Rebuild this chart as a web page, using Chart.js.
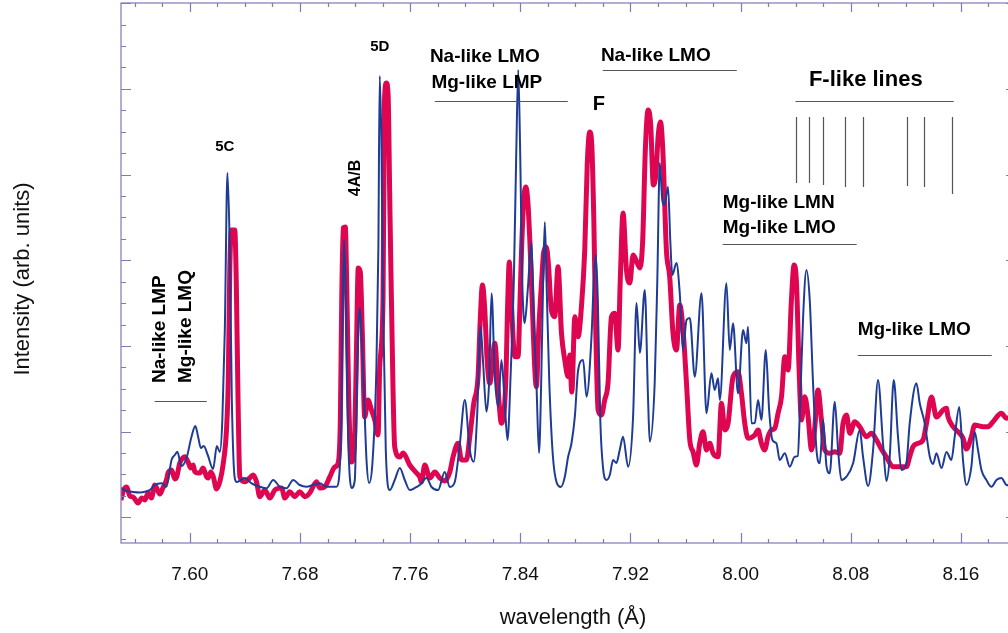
<!DOCTYPE html>
<html>
<head>
<meta charset="utf-8">
<script src="https://cdn.jsdelivr.net/npm/chart.js@4.4.1/dist/chart.umd.min.js"></script>
<style>
  html, body { margin: 0; padding: 0; background: #ffffff; overflow: hidden; }
  #wrap { width: 1030px; height: 633px; }
</style>
</head>
<body>
<div id="wrap"><canvas id="spectrum" width="1030" height="633"></canvas></div>
<script>
// ---- spectrum 1 (thin blue trace): wavelength (Å) / intensity (arb. units)
const blueWavelength = [
  7.5499, 7.5542, 7.5586, 7.5637, 7.5680, 7.5709, 7.5745, 7.5794, 7.5830, 7.5867,
  7.5891, 7.5909, 7.5939, 7.5976, 7.6012, 7.6040, 7.6060, 7.6080, 7.6101, 7.6130,
  7.6169, 7.6196, 7.6218, 7.6236, 7.6254, 7.6273, 7.6290, 7.6305, 7.6326, 7.6341,
  7.6370, 7.6399, 7.6448, 7.6508, 7.6557, 7.6605, 7.6653, 7.6702, 7.6750, 7.6798,
  7.6847, 7.6895, 7.6944, 7.6992, 7.7065, 7.7082, 7.7100, 7.7111, 7.7120, 7.7133,
  7.7149, 7.7174, 7.7198, 7.7212, 7.7222, 7.7234, 7.7249, 7.7258, 7.7283, 7.7302,
  7.7326, 7.7355, 7.7369, 7.7379, 7.7392, 7.7403, 7.7423, 7.7452, 7.7488, 7.7525,
  7.7561, 7.7597, 7.7634, 7.7670, 7.7719, 7.7755, 7.7803, 7.7851, 7.7888, 7.7924,
  7.7960, 7.7997, 7.8033, 7.8062, 7.8086, 7.8111, 7.8130, 7.8154, 7.8173, 7.8191,
  7.8215, 7.8239, 7.8263, 7.8287, 7.8307, 7.8331, 7.8353, 7.8371, 7.8385, 7.8400,
  7.8414, 7.8432, 7.8454, 7.8481, 7.8498, 7.8517, 7.8536, 7.8552, 7.8565, 7.8578,
  7.8592, 7.8610, 7.8636, 7.8665, 7.8694, 7.8723, 7.8747, 7.8772, 7.8796, 7.8820,
  7.8856, 7.8881, 7.8917, 7.8934, 7.8948, 7.8963, 7.8981, 7.9001, 7.9026, 7.9050,
  7.9074, 7.9098, 7.9122, 7.9146, 7.9183, 7.9219, 7.9244, 7.9268, 7.9304, 7.9328,
  7.9340, 7.9376, 7.9395, 7.9413, 7.9431, 7.9446, 7.9473, 7.9489, 7.9504, 7.9534,
  7.9558, 7.9582, 7.9607, 7.9631, 7.9667, 7.9716, 7.9752, 7.9788, 7.9812, 7.9836,
  7.9849, 7.9897, 7.9921, 7.9945, 7.9981, 8.0018, 8.0042, 8.0054, 8.0079, 8.0103,
  8.0127, 8.0151, 8.0183, 8.0207, 8.0231, 8.0260, 8.0284, 8.0321, 8.0357, 8.0393,
  8.0415, 8.0429, 8.0454, 8.0478, 8.0502, 8.0526, 8.0551, 8.0575, 8.0599, 8.0624,
  8.0647, 8.0684, 8.0708, 8.0732, 8.0769, 8.0817, 8.0865, 8.0889, 8.0926, 8.0962,
  8.0998, 8.1034, 8.1059, 8.1083, 8.1112, 8.1143, 8.1168, 8.1204, 8.1228, 8.1277,
  8.1301, 8.1337, 8.1374, 8.1398, 8.1422, 8.1459, 8.1495, 8.1531, 8.1555, 8.1588,
  8.1615, 8.1640, 8.1676, 8.1700, 8.1724, 8.1749, 8.1785, 8.1822, 8.1858, 8.1894,
  8.1931, 8.2000
];
const blueIntensity = [
  55, 52, 51, 50.5, 51.5, 53, 58, 59.7, 56.3, 83,
  88, 91.3, 77, 85, 106.3, 117, 106.3, 95, 97, 88,
  74, 97, 91, 123, 213, 370, 293, 143, 65, 61,
  63, 65, 59.7, 56.3, 54.7, 63, 56.3, 54.7, 63, 58,
  56.3, 58, 59.7, 56.3, 56.3, 63, 123, 243, 303, 243,
  110, 55, 63, 143, 210, 235, 203, 176, 83, 60,
  80, 176, 293, 467, 393, 243, 93, 53, 63, 75,
  63, 53, 55, 58, 65, 56, 53, 71, 56, 61,
  98, 143, 93, 81.3, 126.3, 216.3, 179.7, 131.3, 159.7, 249.7,
  166.3, 136.3, 183, 139.7, 103, 173, 263, 393, 473, 383,
  263, 220, 253, 301, 223, 160, 90, 163, 256, 321,
  253, 163, 88, 60, 56, 66, 86, 100, 126.3, 173,
  183, 146.3, 206.3, 263, 288, 243, 123, 75, 63, 68,
  83, 80, 93, 106.3, 76.3, 126.3, 240, 190, 253, 143,
  101.3, 160, 263, 380, 343, 338, 356, 303, 268, 280,
  250, 193, 223, 225, 166.3, 249.7, 129.7, 169.7, 153, 164.7,
  143, 259.7, 193, 219.7, 149.7, 213, 199.7, 216.3, 119.7, 120,
  143, 123, 193, 133, 103, 99.7, 83, 89.7, 76.3, 86.3,
  87, 126.3, 226.3, 273, 243, 159.7, 93, 79.7, 123, 76.3,
  69.7, 141.3, 93, 63, 66.3, 79.7, 113, 86.3, 57, 93,
  163, 99.7, 62, 86.3, 163, 106.3, 73, 79.7, 119.7, 159.7,
  139.7, 119.7, 86.3, 79, 89.7, 75, 91, 83, 106.3, 136,
  83, 58, 76.3, 111, 93, 73, 63, 56.3, 63, 65,
  58, 57
];

// ---- spectrum 2 (thick red trace): wavelength (Å) / intensity (arb. units)
const redWavelength = [
  7.5499, 7.5520, 7.5542, 7.5564, 7.5588, 7.5624, 7.5651, 7.5673, 7.5697, 7.5721,
  7.5745, 7.5782, 7.5804, 7.5830, 7.5842, 7.5867, 7.5891, 7.5905, 7.5927, 7.5949,
  7.5963, 7.5987, 7.6007, 7.6024, 7.6036, 7.6060, 7.6072, 7.6096, 7.6121, 7.6133,
  7.6152, 7.6169, 7.6194, 7.6218, 7.6241, 7.6266, 7.6279, 7.6290, 7.6302, 7.6326,
  7.6337, 7.6350, 7.6363, 7.6399, 7.6435, 7.6459, 7.6484, 7.6508, 7.6544, 7.6581,
  7.6617, 7.6666, 7.6690, 7.6726, 7.6762, 7.6798, 7.6835, 7.6871, 7.6920, 7.6944,
  7.6980, 7.7016, 7.7053, 7.7077, 7.7093, 7.7103, 7.7114, 7.7129, 7.7140, 7.7154,
  7.7174, 7.7198, 7.7210, 7.7223, 7.7238, 7.7252, 7.7270, 7.7294, 7.7319, 7.7343,
  7.7367, 7.7379, 7.7403, 7.7414, 7.7427, 7.7440, 7.7452, 7.7464, 7.7488, 7.7525,
  7.7549, 7.7597, 7.7646, 7.7670, 7.7682, 7.7706, 7.7743, 7.7779, 7.7815, 7.7851,
  7.7888, 7.7912, 7.7948, 7.7973, 7.8009, 7.8033, 7.8062, 7.8093, 7.8109, 7.8125,
  7.8142, 7.8159, 7.8178, 7.8215, 7.8239, 7.8263, 7.8294, 7.8309, 7.8320, 7.8334,
  7.8360, 7.8384, 7.8396, 7.8409, 7.8425, 7.8440, 7.8454, 7.8469, 7.8481, 7.8517,
  7.8534, 7.8554, 7.8570, 7.8589, 7.8603, 7.8626, 7.8650, 7.8674, 7.8699, 7.8723,
  7.8747, 7.8759, 7.8774, 7.8796, 7.8820, 7.8844, 7.8868, 7.8886, 7.8904, 7.8919,
  7.8934, 7.8948, 7.8965, 7.8989, 7.9013, 7.9037, 7.9062, 7.9086, 7.9110, 7.9126,
  7.9146, 7.9171, 7.9195, 7.9219, 7.9246, 7.9268, 7.9289, 7.9308, 7.9328, 7.9347,
  7.9366, 7.9384, 7.9402, 7.9418, 7.9435, 7.9461, 7.9485, 7.9509, 7.9534, 7.9558,
  7.9582, 7.9607, 7.9631, 7.9655, 7.9679, 7.9703, 7.9727, 7.9752, 7.9776, 7.9800,
  7.9836, 7.9861, 7.9885, 7.9909, 7.9945, 7.9981, 8.0006, 8.0030, 8.0054, 8.0103,
  8.0127, 8.0151, 8.0175, 8.0199, 8.0224, 8.0248, 8.0272, 8.0297, 8.0321, 8.0345,
  8.0369, 8.0388, 8.0406, 8.0424, 8.0442, 8.0466, 8.0490, 8.0515, 8.0539, 8.0562,
  8.0587, 8.0611, 8.0647, 8.0684, 8.0720, 8.0744, 8.0769, 8.0793, 8.0829, 8.0865,
  8.0914, 8.0950, 8.0987, 8.1018, 8.1059, 8.1107, 8.1156, 8.1204, 8.1228, 8.1252,
  8.1289, 8.1325, 8.1350, 8.1386, 8.1422, 8.1470, 8.1495, 8.1506, 8.1543, 8.1579,
  8.1615, 8.1640, 8.1676, 8.1700, 8.1761, 8.1797, 8.1833, 8.1894, 8.1931, 8.2000
];
const redIntensity = [
  43, 53, 56, 47, 46, 40, 45, 43, 50, 45,
  58, 49, 55, 63, 70, 73, 64, 66.3, 80, 85,
  86.3, 81, 75, 78, 71.3, 70, 70, 75, 66.3, 65,
  71, 67, 54, 61.3, 78, 113, 163, 273, 313, 313,
  263, 143, 66.3, 61.3, 65, 68, 61.3, 46.3, 53, 45,
  53, 55, 45, 51.3, 46.3, 51.3, 46.3, 50, 61.3, 55,
  56.3, 66, 76, 80, 123, 243, 315, 316, 253, 143,
  81, 110, 193, 275, 271, 213, 126, 143, 133, 123,
  108, 176, 243, 443, 460, 448, 343, 243, 96, 86,
  90, 78, 70, 66, 61, 78, 65, 71, 65, 62,
  71, 86.3, 99.7, 83, 83, 106.3, 139.7, 166.3, 223, 258,
  233, 183, 159.7, 199.7, 153, 119.7, 159.7, 243, 281, 243,
  186.3, 186.3, 233, 293, 343, 356, 343, 303, 260, 156.3,
  213, 260, 291, 296, 281, 233, 226.3, 276.3, 210, 183,
  166.3, 188, 151, 226.3, 206.3, 236.3, 293, 378, 411, 398,
  323, 213, 133, 128, 143, 159.7, 226.3, 229.7, 193, 263,
  330, 273, 260, 288, 281, 275, 303, 393, 433, 418,
  358, 368, 408, 421, 393, 293, 266.3, 209.7, 193, 238,
  213, 159.7, 103, 91, 78, 99.7, 111.3, 93, 99.7, 89.7,
  86.3, 139.7, 113, 119.7, 166.3, 171.3, 149.7, 119.7, 104.7, 108,
  113, 99.7, 93, 106.3, 113, 114.7, 129.7, 146.3, 186.3, 173,
  243, 278, 259.7, 176.3, 123, 146.3, 126.3, 93, 116.3, 153,
  123, 93, 89.7, 91.3, 89.7, 119.7, 128, 109.7, 121.3, 116.3,
  106.3, 109.7, 103, 95, 86, 76.3, 76.3, 76.3, 86.3, 96.3,
  99.7, 103, 119.7, 146, 126, 133, 134.7, 126.3, 116.3, 111.3,
  105, 94, 106.3, 118, 116.3, 116.3, 121.3, 129.7, 124.7, 128
];

// ---- axes
const xMin = 7.55, xMax = 8.20;
const yMin = 0, yMax = 540;
const xTickValues = [7.60, 7.68, 7.76, 7.84, 7.92, 8.00, 8.08, 8.16];
const xTickLabels = ['7.60', '7.68', '7.76', '7.84', '7.92', '8.00', '8.08', '8.16'];
const xMinorStep = 0.02;
const yTickFirst = 4.3, yTickStep = 21.42, yTickCount = 26, yMajorEvery = 4, yMajorOffset = 1;
const xTitle = 'wavelength (Å)';
const yTitle = 'Intensity (arb. units)';

// ---- line identifications: [text, wavelength, intensity, alignment, font size, rotated]
const labelText = ['5C', '5D', '4A/B', 'Na-like LMO', 'Mg-like LMP', 'F', 'Na-like LMO',
  'F-like lines', 'Mg-like LMN', 'Mg-like LMO', 'Mg-like LMO', 'Na-like LMP', 'Mg-like LMQ'];
const labelWavelength = [7.6254, 7.7379, 7.7205, 7.8142, 7.8157, 7.8970, 7.9384,
  8.0909, 7.9870, 7.9870, 8.0851, 7.5782, 7.5967];
const labelIntensity = [396, 496, 365, 486, 460, 439, 487, 463, 340, 315, 213, 160, 160];
const labelAlign = ['center', 'center', 'center', 'center', 'center', 'center', 'center',
  'center', 'left', 'left', 'left', 'left', 'left'];
const labelSize = [15, 15, 16, 19, 19, 20, 19, 22, 19, 19, 19, 19, 19];
const labelRotated = [false, false, true, false, false, false, false,
  false, false, false, false, true, true];

// horizontal range bars: start wavelength, end wavelength, intensity
const barStart = [7.7779, 7.8999, 8.0399, 7.9870, 8.0851, 7.5745];
const barEnd = [7.8745, 7.9972, 8.1548, 8.0843, 8.1824, 7.6123];
const barLevel = [442, 473, 442, 299, 188, 142];

// F-like line positions (markers): wavelength, top and bottom intensity
const fLineWavelength = [8.0401, 8.0495, 8.0597, 8.0756, 8.0887, 8.1207, 8.1330, 8.1533];
const fLineTop = [426, 426, 426, 426, 426, 426, 426, 426];
const fLineBottom = [360, 360, 358, 356, 356, 357, 356, 349];

const AXIS_COLOR = '#8079b4';
const FONT = '"Liberation Sans", Arial, Helvetica, sans-serif';

const framePlugin = {
  id: 'framePlugin',
  afterDatasetsDraw(chart) {
    const { ctx, chartArea: a, scales: { x, y } } = chart;
    ctx.save();

    // frame
    ctx.strokeStyle = AXIS_COLOR;
    ctx.lineWidth = 1.2;
    ctx.strokeRect(a.left, a.top, a.right - a.left, a.bottom - a.top);

    // x ticks on bottom and top edges, pointing inward
    ctx.beginPath();
    for (let v = 7.56; v <= xMax + 1e-9; v += xMinorStep) {
      const isMajor = xTickValues.some(t => Math.abs(t - v) < 1e-6) || Math.abs(v - 8.24) < 1e-6;
      const px = Math.round(x.getPixelForValue(v)) + 0.5;
      const lb = isMajor ? 10 : 4;
      const lt = isMajor ? 9 : 4;
      ctx.moveTo(px, a.bottom); ctx.lineTo(px, a.bottom - lb);
      ctx.moveTo(px, a.top); ctx.lineTo(px, a.top + lt);
    }
    // y ticks on left and right edges, pointing inward
    for (let k = 0; k < yTickCount; k++) {
      const v = yTickFirst + k * yTickStep;
      const isMajor = (k - yMajorOffset) % yMajorEvery === 0;
      const py = Math.round(y.getPixelForValue(v)) + 0.5;
      const len = isMajor ? 10 : 5;
      ctx.moveTo(a.left, py); ctx.lineTo(a.left + len, py);
      ctx.moveTo(a.right, py); ctx.lineTo(a.right - len, py);
    }
    ctx.stroke();

    // x tick labels
    ctx.fillStyle = '#111111';
    ctx.font = '19px ' + FONT;
    ctx.textAlign = 'center';
    ctx.textBaseline = 'middle';
    xTickValues.forEach((v, i) => {
      ctx.fillText(xTickLabels[i], x.getPixelForValue(v), a.bottom + 32);
    });

    // axis titles
    ctx.font = '22px ' + FONT;
    ctx.fillText(xTitle, (a.left + 1005) / 2 + 10, a.bottom + 75);
    ctx.save();
    ctx.translate(a.left - 98, (a.top + a.bottom) / 2 + 6);
    ctx.rotate(-Math.PI / 2);
    ctx.fillText(yTitle, 0, 0);
    ctx.restore();

    // range bars and F-like markers
    ctx.strokeStyle = '#555555';
    ctx.lineWidth = 1.2;
    ctx.beginPath();
    barLevel.forEach((lv, i) => {
      const py = Math.round(y.getPixelForValue(lv)) + 0.5;
      ctx.moveTo(x.getPixelForValue(barStart[i]), py);
      ctx.lineTo(x.getPixelForValue(barEnd[i]), py);
    });
    fLineWavelength.forEach((w, i) => {
      const px = Math.round(x.getPixelForValue(w)) + 0.5;
      ctx.moveTo(px, y.getPixelForValue(fLineTop[i]));
      ctx.lineTo(px, y.getPixelForValue(fLineBottom[i]));
    });
    ctx.stroke();

    // line identifications
    ctx.fillStyle = '#000000';
    labelText.forEach((t, i) => {
      ctx.save();
      ctx.font = 'bold ' + labelSize[i] + 'px ' + FONT;
      ctx.textAlign = labelAlign[i];
      ctx.textBaseline = 'middle';
      ctx.translate(x.getPixelForValue(labelWavelength[i]), y.getPixelForValue(labelIntensity[i]));
      if (labelRotated[i]) ctx.rotate(-Math.PI / 2);
      ctx.fillText(t, 0, 0);
      ctx.restore();
    });

    ctx.restore();
  }
};

const toPoints = (xs, ys) => xs.map((v, i) => ({ x: v, y: ys[i] }));

new Chart(document.getElementById('spectrum'), {
  type: 'line',
  data: {
    datasets: [
      {
        label: 'spectrum 1',
        data: toPoints(blueWavelength, blueIntensity),
        borderColor: '#1f3c95',
        borderWidth: 2,
        pointRadius: 0,
        cubicInterpolationMode: 'monotone',
        borderJoinStyle: 'round'
      },
      {
        label: 'spectrum 2',
        data: toPoints(redWavelength, redIntensity),
        borderColor: '#de0651',
        borderWidth: 5,
        pointRadius: 0,
        cubicInterpolationMode: 'monotone',
        borderJoinStyle: 'round'
      }
    ]
  },
  options: {
    responsive: false,
    animation: false,
    events: [],
    layout: { padding: { left: 121, top: 3, right: 14, bottom: 90 } },
    plugins: { legend: { display: false }, tooltip: { enabled: false } },
    scales: {
      x: { type: 'linear', min: xMin, max: xMax, display: false },
      y: { type: 'linear', min: yMin, max: yMax, display: false }
    }
  },
  plugins: [framePlugin]
});
</script>
</body>
</html>
